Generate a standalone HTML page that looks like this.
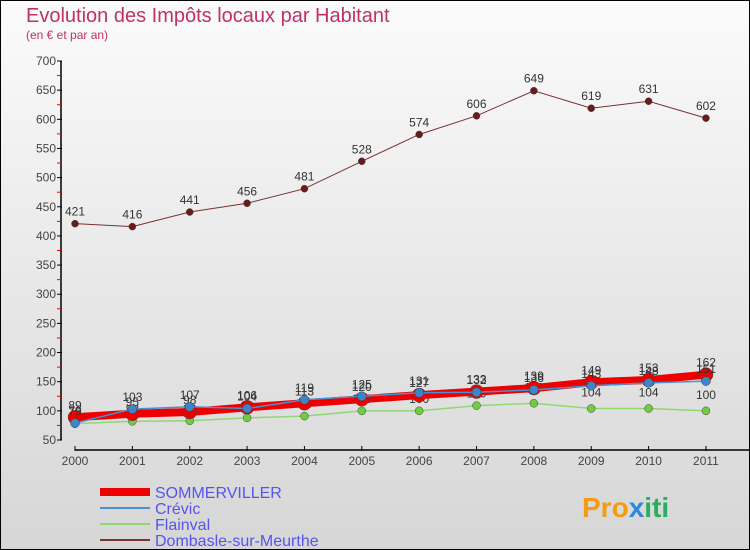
<!DOCTYPE html>
<html><head><meta charset="utf-8"><style>
body{margin:0}
#c{width:750px;height:550px;position:relative;overflow:hidden;background:linear-gradient(#fbfbfb,#d6d6d6);font-family:"Liberation Sans","DejaVu Sans",sans-serif}
</style></head><body>
<div id="c">
<svg id="s" width="750" height="550" style="position:absolute;left:0;top:0">
<rect x="0.5" y="0.5" width="749" height="549" fill="none" stroke="#000"/>
<text x="26" y="22" font-size="20" fill="#c0306a">Evolution des Impôts locaux par Habitant</text>
<text x="26" y="39" font-size="12" fill="#c0306a">(en € et par an)</text>
<g id="ax"></g><g id="pl"></g><g id="lg"></g>
<text x="582" y="517" font-size="28" font-weight="bold" fill="#f39c12">Pro<tspan fill="#2e86de">x</tspan><tspan fill="#27ae60">iti</tspan></text>
</svg></div>
<script>
const years=["2000","2001","2002","2003","2004","2005","2006","2007","2008","2009","2010","2011"];
const yTicks=[50,100,150,200,250,300,350,400,450,500,550,600,650,700];
const sommerviller=[89,95,98,106,113,120,127,133,139,149,153,162];
const crevic=[79,103,107,104,119,125,131,132,136,143,148,151];
const flainval=[78,82,83,88,91,100,100,109,113,104,104,100];
const dombasle=[421,416,441,456,481,528,574,606,649,619,631,602];
const NS="http://www.w3.org/2000/svg";
function X(i){return 75+i*57.36;}
function Y(v){return 440-(v-50)*379/650;}
function mk(p,t,a){const e=document.createElementNS(NS,t);for(const k in a)e.setAttribute(k,a[k]);p.appendChild(e);return e;}
const ax=document.getElementById('ax'),pl=document.getElementById('pl'),lg=document.getElementById('lg');
let l=mk(ax,'line',{x1:61,y1:Y(700),x2:61,y2:Y(50),stroke:'#000','stroke-width':1.5});


l=mk(ax,'line',{x1:X(0),y1:450,x2:750,y2:450,stroke:'#000','stroke-width':1.5});


yTicks.forEach(v=>{
 mk(ax,'line',{x1:57,y1:Y(v),x2:62,y2:Y(v),stroke:'#000'});
 if(v<700)mk(ax,'line',{x1:57,y1:Y(v+25),x2:61,y2:Y(v+25),stroke:'#e00'});
 const t=mk(ax,'text',{x:56,y:Y(v)+4,'font-size':12,fill:'#444','text-anchor':'end'});t.textContent=v;
 
 
});
years.forEach((y,i)=>{
 mk(ax,'line',{x1:X(i),y1:446,x2:X(i),y2:451,stroke:'#000'});
 const t=mk(ax,'text',{x:X(i),y:465,'font-size':12,fill:'#444','text-anchor':'middle'});t.textContent=y;
 
 
});
const series=[
 {n:'dombasle',d:dombasle,c:'#7a3030',w:1,r:3.5,f:'#6b1a1a',lab:'Dombasle-sur-Meurthe'},
 {n:'flainval',d:flainval,c:'#90d870',w:1.5,r:4,f:'#70cc40',lab:'Flainval'},
 {n:'sommerviller',d:sommerviller,c:'#ee0000',w:8,r:7,f:'#ee0000',lab:'SOMMERVILLER'},
 {n:'crevic',d:crevic,c:'#4a90d0',w:1.5,r:4.5,f:'#3a86cc',lab:'Crévic'}];
series.forEach(s=>{
 const p=mk(pl,'polyline',{points:s.d.map((v,i)=>X(i)+','+Y(v)).join(' '),fill:'none',stroke:s.c,'stroke-width':s.w});
 
 
 s.d.forEach((v,i)=>{
  const c=mk(pl,'circle',{cx:X(i),cy:Y(v),r:s.r,fill:s.f,stroke:'#444','stroke-width':0.5});
  
  
  const t=mk(pl,'text',{x:X(i),y:Y(v)-(s.n=='flainval'&&i>=8?12:8),'font-size':12,fill:'#333','text-anchor':'middle'});t.textContent=v;
  
  
 });
});
const order=[2,3,1,0];
order.forEach((k,j)=>{
 const s=series[k],y=492+j*16;
 const g=mk(lg,'g',{});
 
 
 mk(g,'line',{x1:100,y1:y,x2:150,y2:y,stroke:s.c,'stroke-width':k==2?8:2});
 const t=mk(g,'text',{x:155,y:y+6,'font-size':16,fill:'#5555ee'});t.textContent=s.lab;
});
</script></body></html>
